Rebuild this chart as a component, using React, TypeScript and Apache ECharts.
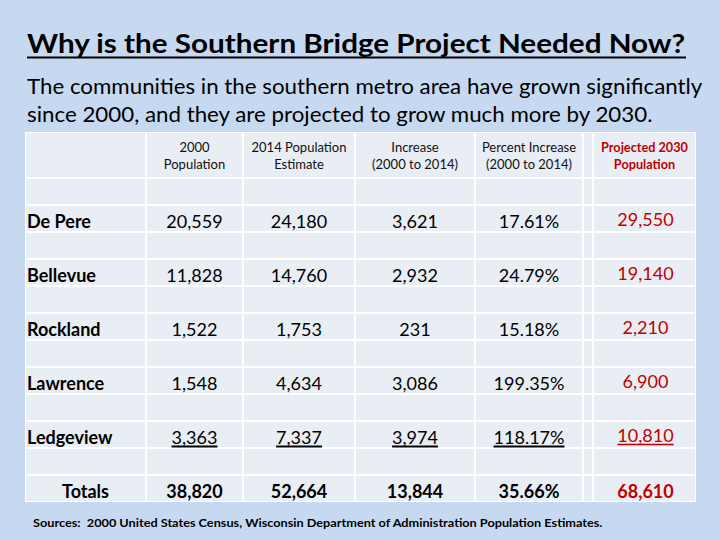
import React, { useEffect, useRef } from "react";
import * as echarts from "echarts";

const titleText = "Why is the Southern Bridge Project Needed Now?";
const subtitleLines = [
  "The communities in the southern metro area have grown significantly",
  "since 2000, and they are projected to grow much more by 2030.",
];
const sourceText =
  "Sources:  2000 United States Census, Wisconsin Department of Administration Population Estimates.";

const headers = [
  "",
  "2000\nPopulation",
  "2014 Population\nEstimate",
  "Increase\n(2000 to 2014)",
  "Percent Increase\n(2000 to 2014)",
  "",
  "Projected 2030\nPopulation",
];

const towns = ["De Pere", "Bellevue", "Rockland", "Lawrence", "Ledgeview"];
const pop2000 = [20559, 11828, 1522, 1548, 3363];
const pop2014 = [24180, 14760, 1753, 4634, 7337];
const increase = [3621, 2932, 231, 3086, 3974];
const pctIncrease = [17.61, 24.79, 15.18, 199.35, 118.17];
const projected2030 = [29550, 19140, 2210, 6900, 10810];

const totalsLabel = "Totals";
const totals2000 = 38820;
const totals2014 = 52664;
const totalsIncrease = 13844;
const totalsPct = 35.66;
const totalsProjected = 68610;

const underlinedRows = ["Ledgeview"];

// layout (style only)
const BG = "#c6d9f1";
const CELL = "#e9edf4";
const RED = "#c00000";
const FONT = "Lato, 'Noto Sans', sans-serif";
const COL_EDGES = [25, 146, 243, 355, 475, 583, 593, 696];
const TABLE_TOP = 132;
const HEADER_H = 46;
const ROW_H = 27;
const BODY_ROWS = 12;

const fmt = (v: number) => v.toLocaleString("en-US");
const fmtPct = (v: number) => v.toFixed(2) + "%";

let measureCtx: CanvasRenderingContext2D | null = null;
function textWidth(s: string, font: string) {
  if (!measureCtx) measureCtx = document.createElement("canvas").getContext("2d");
  if (!measureCtx) return s.length * 9;
  measureCtx.font = font;
  return measureCtx.measureText(s).width;
}

// left-aligned text stretched horizontally to a target width
function fittedText(text: string, x: number, y: number, size: number, weight: string, target: number) {
  const w = textWidth(text, `${weight} ${size}px Lato`);
  const sx = w > 0 ? target / w : 1;
  return {
    el: {
      type: "text",
      x,
      y,
      scaleX: sx,
      style: { text, font: `${weight} ${size}px ${FONT}`, fill: "#000", verticalAlign: "middle", align: "left" },
    },
    width: w * sx,
  };
}

function buildGraphics() {
  const g: any[] = [];
  const title = fittedText(titleText, 27, 43, 27, "bold", 659);
  g.push(title.el);
  g.push({ type: "line", shape: { x1: 27, y1: 57.5, x2: 27 + title.width, y2: 57.5 }, style: { stroke: "#000", lineWidth: 2 } });

  subtitleLines.forEach((s, i) => {
    const target = i === 0 ? 676 : 676 * (textWidth(s, "normal 21px Lato") / textWidth(subtitleLines[0], "normal 21px Lato"));
    g.push(fittedText(s, 27, 86 + i * 28, 21, "normal", target).el);
  });

  // table background (white grid)
  const tableBottom = TABLE_TOP + HEADER_H + BODY_ROWS * ROW_H;
  g.push({
    type: "rect",
    shape: { x: COL_EDGES[0], y: TABLE_TOP, width: COL_EDGES[COL_EDGES.length - 1] - COL_EDGES[0], height: tableBottom - TABLE_TOP },
    style: { fill: "#ffffff" },
  });
  const rowEdges: number[] = [TABLE_TOP, TABLE_TOP + HEADER_H];
  for (let r = 1; r <= BODY_ROWS; r++) rowEdges.push(TABLE_TOP + HEADER_H + r * ROW_H);
  for (let r = 0; r < rowEdges.length - 1; r++) {
    for (let c = 0; c < COL_EDGES.length - 1; c++) {
      g.push({
        type: "rect",
        shape: {
          x: COL_EDGES[c] + 1,
          y: rowEdges[r] + 1,
          width: COL_EDGES[c + 1] - COL_EDGES[c] - 2,
          height: rowEdges[r + 1] - rowEdges[r] - 2,
        },
        style: { fill: CELL },
      });
    }
  }

  // headers
  headers.forEach((h, c) => {
    if (!h) return;
    const isRed = c === 6;
    g.push({
      type: "text",
      x: (COL_EDGES[c] + COL_EDGES[c + 1]) / 2,
      y: TABLE_TOP + HEADER_H / 2,
      style: {
        text: h,
        font: `${isRed ? "bold 12.7px" : "13px"} ${FONT}`,
        fill: isRed ? RED : "#111",
        align: "center",
        verticalAlign: "middle",
        lineHeight: 17,
      },
    });
  });

  // data rows
  const rows = towns.map((t, i) => ({
    label: t,
    vals: [fmt(pop2000[i]), fmt(pop2014[i]), fmt(increase[i]), fmtPct(pctIncrease[i])],
    proj: fmt(projected2030[i]),
    bold: false,
    center: false,
    underline: underlinedRows.includes(t),
  }));
  rows.push({
    label: totalsLabel,
    vals: [fmt(totals2000), fmt(totals2014), fmt(totalsIncrease), fmtPct(totalsPct)],
    proj: fmt(totalsProjected),
    bold: true,
    center: true,
    underline: false,
  });

  rows.forEach((row, i) => {
    const cy = TABLE_TOP + HEADER_H + (2 * i + 1) * ROW_H + ROW_H / 2 + 2;
    g.push({
      type: "text",
      x: row.center ? (COL_EDGES[0] + COL_EDGES[1]) / 2 : COL_EDGES[0] + 2,
      y: cy,
      style: {
        text: row.label,
        font: `bold 18px ${FONT}`,
        fill: "#000",
        align: row.center ? "center" : "left",
        verticalAlign: "middle",
      },
    });
    const cells = [
      { c: 1, t: row.vals[0], color: "#000" },
      { c: 2, t: row.vals[1], color: "#000" },
      { c: 3, t: row.vals[2], color: "#000" },
      { c: 4, t: row.vals[3], color: "#000" },
      { c: 6, t: row.proj, color: RED },
    ];
    cells.forEach(({ c, t, color }) => {
      const cx = (COL_EDGES[c] + COL_EDGES[c + 1]) / 2 + (c === 6 ? 1 : 0);
      const font = `${row.bold ? "bold " : ""}18px ${FONT}`;
      const ty = c === 6 && !row.bold ? cy - 2 : cy;
      g.push({
        type: "text",
        x: cx,
        y: ty,
        style: { text: t, font, fill: color, align: "center", verticalAlign: "middle" },
      });
      if (row.underline) {
        const w = textWidth(t, `${row.bold ? "bold " : ""}18px Lato`);
        const uy = ty + 10;
        g.push({
          type: "line",
          shape: { x1: cx - w / 2, y1: uy, x2: cx + w / 2, y2: uy },
          style: { stroke: color, lineWidth: c === 6 ? 1.3 : 2 },
        });
      }
    });
  });

  g.push(fittedText(sourceText, 33, 523, 11.5, "bold", 571).el);
  return g;
}

export default function App() {
  const ref = useRef<HTMLDivElement>(null);
  useEffect(() => {
    if (!ref.current) return;
    const chart = echarts.init(ref.current, undefined, { renderer: "svg" });
    chart.setOption({
      animation: false,
      backgroundColor: BG,
      graphic: { elements: buildGraphics() },
    });
    return () => chart.dispose();
  }, []);
  return <div ref={ref} style={{ position: "fixed", left: 0, top: 0, width: 720, height: 540 }} />;
}
